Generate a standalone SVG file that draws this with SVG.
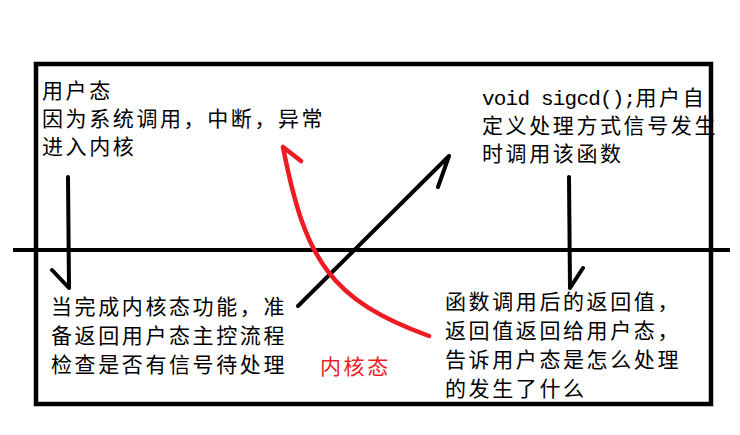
<svg xmlns="http://www.w3.org/2000/svg" width="740" height="435" viewBox="0 0 740 435">
<style>
.t{font-family:"Noto Sans CJK SC","Noto Sans",sans-serif;font-size:21px;letter-spacing:2.6px;fill:#000}
.m{font-family:"Liberation Mono",monospace;letter-spacing:-0.8px}
.r{fill:#ed1c24}
.k{fill:none;stroke:#000;stroke-width:4;stroke-linecap:round;stroke-linejoin:round}
.rl{fill:none;stroke:#ed1c24;stroke-width:4.5;stroke-linecap:round;stroke-linejoin:round}
</style>
<rect width="740" height="435" fill="#fff"/>
<g id="frame">
<rect x="36" y="64" width="675" height="340" fill="none" stroke="#000" stroke-width="4.5"/>
<line x1="13" y1="250" x2="730" y2="250" stroke="#000" stroke-width="4"/>
</g>
<g id="user-mode">
<text class="t" x="42" y="98">用户态</text>
<text class="t" x="42" y="126">因为系统调用，中断，异常</text>
<text class="t" x="42" y="154">进入内核</text>
</g>
<g id="handler">
<text class="t" x="482" y="105"><tspan class="m">void sigcd();</tspan>用户自</text>
<text class="t" x="482" y="133">定义处理方式信号发生</text>
<text class="t" x="482" y="161">时调用该函数</text>
</g>
<g id="kernel-check">
<text class="t" x="51" y="314">当完成内核态功能，准</text>
<text class="t" x="51" y="343">备返回用户态主控流程</text>
<text class="t" x="51" y="372">检查是否有信号待处理</text>
</g>
<g id="kernel-label">
<text class="t r" x="320" y="374">内核态</text>
</g>
<g id="return">
<text class="t" x="445" y="309">函数调用后的返回值，</text>
<text class="t" x="445" y="338">返回值返回给用户态，</text>
<text class="t" x="445" y="367">告诉用户态是怎么处理</text>
<text class="t" x="445" y="396">的发生了什么</text>
</g>
<g id="connectors">
<path class="k" d="M68,177 L69,288 M52,270 L69,288"/>
<path class="k" d="M569,177 L570,288 M583,268 L570,288"/>
<path class="k" d="M298,306 L449,156 M438,187 L449,156"/>
<path class="rl" d="M429,336 C330,300 305,260 283,147 M283,147 L301,161"/>
</g>
</svg>
